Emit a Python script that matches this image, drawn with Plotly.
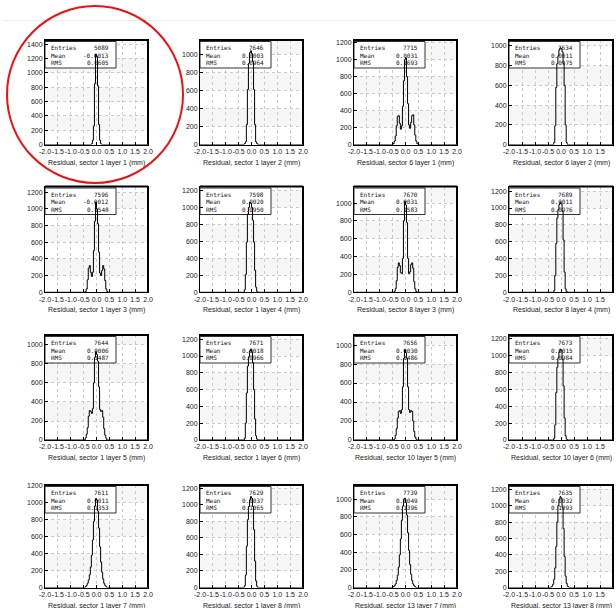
import plotly.graph_objects as go

W, H = 616, 608

# ---------------- data ----------------
TITLES = [
    "Residual, sector 1 layer 1 (mm)", "Residual, sector 1 layer 2 (mm)",
    "Residual, sector 6 layer 1 (mm)", "Residual, sector 6 layer 2 (mm)",
    "Residual, sector 1 layer 3 (mm)", "Residual, sector 1 layer 4 (mm)",
    "Residual, sector 8 layer 3 (mm)", "Residual, sector 8 layer 4 (mm)",
    "Residual, sector 1 layer 5 (mm)", "Residual, sector 1 layer 6 (mm)",
    "Residual, sector 10 layer 5 (mm)", "Residual, sector 10 layer 6 (mm)",
    "Residual, sector 1 layer 7 (mm)", "Residual, sector 1 layer 8 (mm)",
    "Residual, sector 13 layer 7 (mm)", "Residual, sector 13 layer 8 (mm)",
]
ENTRIES = [5089, 7646, 7715, 7634, 7596, 7598, 7670, 7689,
           7644, 7671, 7656, 7673, 7611, 7629, 7739, 7635]
MEANS = [-0.0013, 0.0003, 0.0031, 0.0011, -0.0012, 0.0020, 0.0031, 0.0011,
         0.0006, 0.0018, 0.0030, 0.0015, 0.0011, 0.0037, 0.0049, 0.0032]
RMS = [0.0605, 0.0964, 0.1693, 0.0975, 0.1548, 0.0950, 0.1583, 0.0976,
       0.1487, 0.0966, 0.1486, 0.0984, 0.1353, 0.1065, 0.1396, 0.1093]

# histogram bins: 30 bins of width 0.04 starting at -0.60 (all other bins empty)
BIN_LO = -0.60
BIN_W = 0.04
X_MIN, X_MAX = -2.0, 2.0

COUNTS = [
    # s1 l1
    [0,0,0,0,0,0,0,0,0,0,10,60,260,850,1260,1230,820,280,60,10,0,0,0,0,0,0,0,0,0,0],
    # s1 l2
    [0,0,0,0,0,0,0,0,10,30,220,610,900,1020,1040,1010,920,610,220,30,10,0,0,0,0,0,0,0,0,0],
    # s6 l1
    [0,0,0,10,40,100,220,330,340,250,180,220,450,750,1000,1020,800,480,230,190,260,340,350,230,110,40,10,0,0,0],
    # s6 l2
    [0,0,0,0,0,0,0,0,20,190,580,820,900,960,980,970,940,820,600,200,20,0,0,0,0,0,0,0,0,0],
    # s1 l3
    [0,0,0,0,10,40,150,290,320,240,190,240,500,850,1080,1000,820,480,230,200,260,320,280,140,40,10,0,0,0,0],
    # s1 l4
    [0,0,0,0,0,0,0,0,30,210,590,920,1000,1060,1050,1000,850,590,260,60,10,0,0,0,0,0,0,0,0,0],
    # s8 l3
    [0,0,0,0,10,40,130,280,330,300,220,210,380,800,1020,980,780,380,210,230,310,330,270,120,40,10,0,0,0,0],
    # s8 l4
    [0,0,0,0,0,0,0,0,20,200,580,880,980,1040,1070,1050,960,620,240,40,10,0,0,0,0,0,0,0,0,0],
    # s1 l5
    [0,0,0,0,20,60,130,250,310,300,280,330,600,870,930,900,830,560,320,300,310,240,120,50,20,0,0,0,0,0],
    # s1 l6
    [0,0,0,0,0,0,0,0,20,200,560,880,990,1060,1080,1050,920,600,250,50,10,0,0,0,0,0,0,0,0,0],
    # s10 l5
    [0,0,0,0,10,50,120,230,300,310,280,320,560,860,950,920,860,560,320,290,310,300,200,90,30,10,0,0,0,0],
    # s10 l6
    [0,0,0,0,0,0,0,0,20,180,560,860,970,1040,1070,1060,950,640,260,50,10,0,0,0,0,0,0,0,0,0],
    # s1 l7
    [0,0,0,0,10,25,50,90,150,240,380,560,780,960,1050,1030,900,700,480,300,180,100,50,25,10,0,0,0,0,0],
    # s1 l8
    [0,0,0,0,0,0,0,0,20,150,500,820,980,1060,1100,1080,980,700,320,80,15,0,0,0,0,0,0,0,0,0],
    # s13 l7
    [0,0,0,10,20,40,80,140,230,370,550,760,920,1000,1010,960,820,620,420,260,150,80,40,20,10,0,0,0,0,0],
    # s13 l8
    [0,0,0,0,0,5,15,40,100,240,500,800,1000,1080,1110,1090,980,720,380,140,50,15,5,0,0,0,0,0,0,0],
]
Y_MAX = [1460, 1160, 1230, 1060, 1267, 1247, 1186, 1255,
         1105, 1250, 1106, 1240, 1208, 1240, 1160, 1253]

X_TICKVALS = [-2.0, -1.5, -1.0, -0.5, 0.0, 0.5, 1.0, 1.5, 2.0]
X_TICKTEXT = ["-2.0", "-1.5", "-1.0", "-0.5", "0.0", "0.5", "1.0", "1.5", "2.0"]

# ---------------- layout geometry (pixels) ----------------
COL_L = [45, 200, 354, 509]
COL_R = [148, 303, 457, 613]
ROW_T = [40, 186.5, 335, 485]
ROW_B = [144.5, 292.3, 440, 587.5]

TICK_FONT = dict(family="Liberation Sans", size=7, color="#222222")
STAT_FONT = dict(family="DejaVu Sans Mono", size=6, color="#111111")

fig = go.Figure()
shapes = []
annotations = []
layout = {}

for k in range(16):
    r, c = divmod(k, 4)
    suf = "" if k == 0 else str(k + 1)
    xa, ya = "x" + suf, "y" + suf
    left, right, top, bottom = COL_L[c], COL_R[c], ROW_T[r], ROW_B[r]
    pw, ph = right - left, bottom - top
    ymax = Y_MAX[k]

    # stats box (white panel under the histogram line), sized in pixels via the axis scales
    bw, bh, bt = 71.0, 26.5, 1.5
    bx0 = X_MIN
    bx1 = X_MIN + (X_MAX - X_MIN) * bw / pw
    by1 = ymax * (1 - bt / ph)
    by0 = ymax * (1 - (bt + bh) / ph)
    fig.add_trace(go.Scatter(x=[bx0, bx1, bx1, bx0, bx0], y=[by0, by0, by1, by1, by0],
                             mode="lines", fill="toself", fillcolor="white",
                             line=dict(color="#333333", width=1),
                             xaxis=xa, yaxis=ya, showlegend=False, hoverinfo="skip"))

    counts = COUNTS[k]
    edges = [BIN_LO + BIN_W * i for i in range(len(counts) + 1)]
    xs = [X_MIN] + edges + [X_MAX]
    ys = [0] + counts + [0, 0]
    fig.add_trace(go.Scatter(x=xs, y=ys, mode="lines", line=dict(color="black", width=1, shape="hv"),
                             xaxis=xa, yaxis=ya, showlegend=False, hoverinfo="skip"))

    layout["xaxis" + suf] = dict(
        domain=[left / W, right / W], range=[X_MIN, X_MAX], anchor=ya,
        tickvals=X_TICKVALS, ticktext=X_TICKTEXT, tickangle=0, ticks="inside", ticklen=3, tickcolor="black",
        showline=True, mirror=True, linecolor="black", linewidth=1,
        showgrid=True, gridcolor="#cccccc", griddash="dot", gridwidth=1,
        zeroline=False, tickfont=TICK_FONT, fixedrange=True, automargin=False)
    layout["yaxis" + suf] = dict(
        domain=[1 - bottom / H, 1 - top / H], range=[0, ymax], anchor=xa,
        tick0=0, dtick=200, ticks="inside", ticklen=3, tickcolor="black",
        showline=True, mirror=True, linecolor="black", linewidth=1,
        showgrid=True, gridcolor="#cccccc", griddash="dot", gridwidth=1,
        zeroline=False, tickfont=TICK_FONT, fixedrange=True, automargin=False)

    # alternating light bands
    for b0 in (200, 600, 1000, 1400):
        if b0 < ymax:
            shapes.append(dict(type="rect", xref=xa + " domain", yref=ya, x0=0, x1=1,
                               y0=b0, y1=min(b0 + 200, ymax), fillcolor="#f6f6f6",
                               line=dict(width=0), layer="below"))
    # heavier top / right frame edges
    shapes.append(dict(type="line", xref=xa + " domain", yref=ya + " domain", x0=0, x1=1, y0=1, y1=1,
                       line=dict(color="black", width=2), layer="above"))
    shapes.append(dict(type="line", xref=xa + " domain", yref=ya + " domain", x0=1, x1=1, y0=0, y1=1,
                       line=dict(color="black", width=2), layer="above"))

    labels = ["Entries", "Mean", "RMS"]
    values = [str(ENTRIES[k]), f"{MEANS[k]:.4f}", f"{RMS[k]:.4f}"]
    for j in range(3):
        yy = 1 - (top + 7.7 + 7.6 * j) / H
        annotations.append(dict(text=labels[j], xref="paper", yref="paper", x=(left + 4) / W, y=yy,
                                xanchor="left", yanchor="middle", showarrow=False, font=STAT_FONT))
        annotations.append(dict(text=values[j], xref="paper", yref="paper", x=(left + 66) / W, y=yy,
                                xanchor="right", yanchor="middle", showarrow=False, font=STAT_FONT))
    # axis title
    annotations.append(dict(text=TITLES[k], xref="paper", yref="paper", x=(left + right) / 2 / W,
                            y=1 - (bottom + 18) / H, xanchor="center", yanchor="middle",
                            showarrow=False, font=dict(family="Liberation Sans", size=7, color="#222222")))

# faint rule at the top of the page
shapes.append(dict(type="line", xref="paper", yref="paper", x0=3 / W, x1=1, y0=1 - 20.5 / H, y1=1 - 20.5 / H,
                   line=dict(color="#eeeeee", width=1)))
# red highlight circle
shapes.append(dict(type="circle", xref="paper", yref="paper", x0=7 / W, x1=183 / W,
                   y0=1 - 183 / H, y1=1 - 6 / H, line=dict(color="#ee1111", width=2), layer="above"))

fig.update_layout(width=W, height=H, margin=dict(l=0, r=0, t=0, b=0),
                  paper_bgcolor="white", plot_bgcolor="white",
                  shapes=shapes, annotations=annotations, showlegend=False, **layout)
fig.write_html("out.html", config={"displayModeBar": False, "staticPlot": True},
               post_script="document.body.style.margin='0';document.body.style.overflow='hidden';")
